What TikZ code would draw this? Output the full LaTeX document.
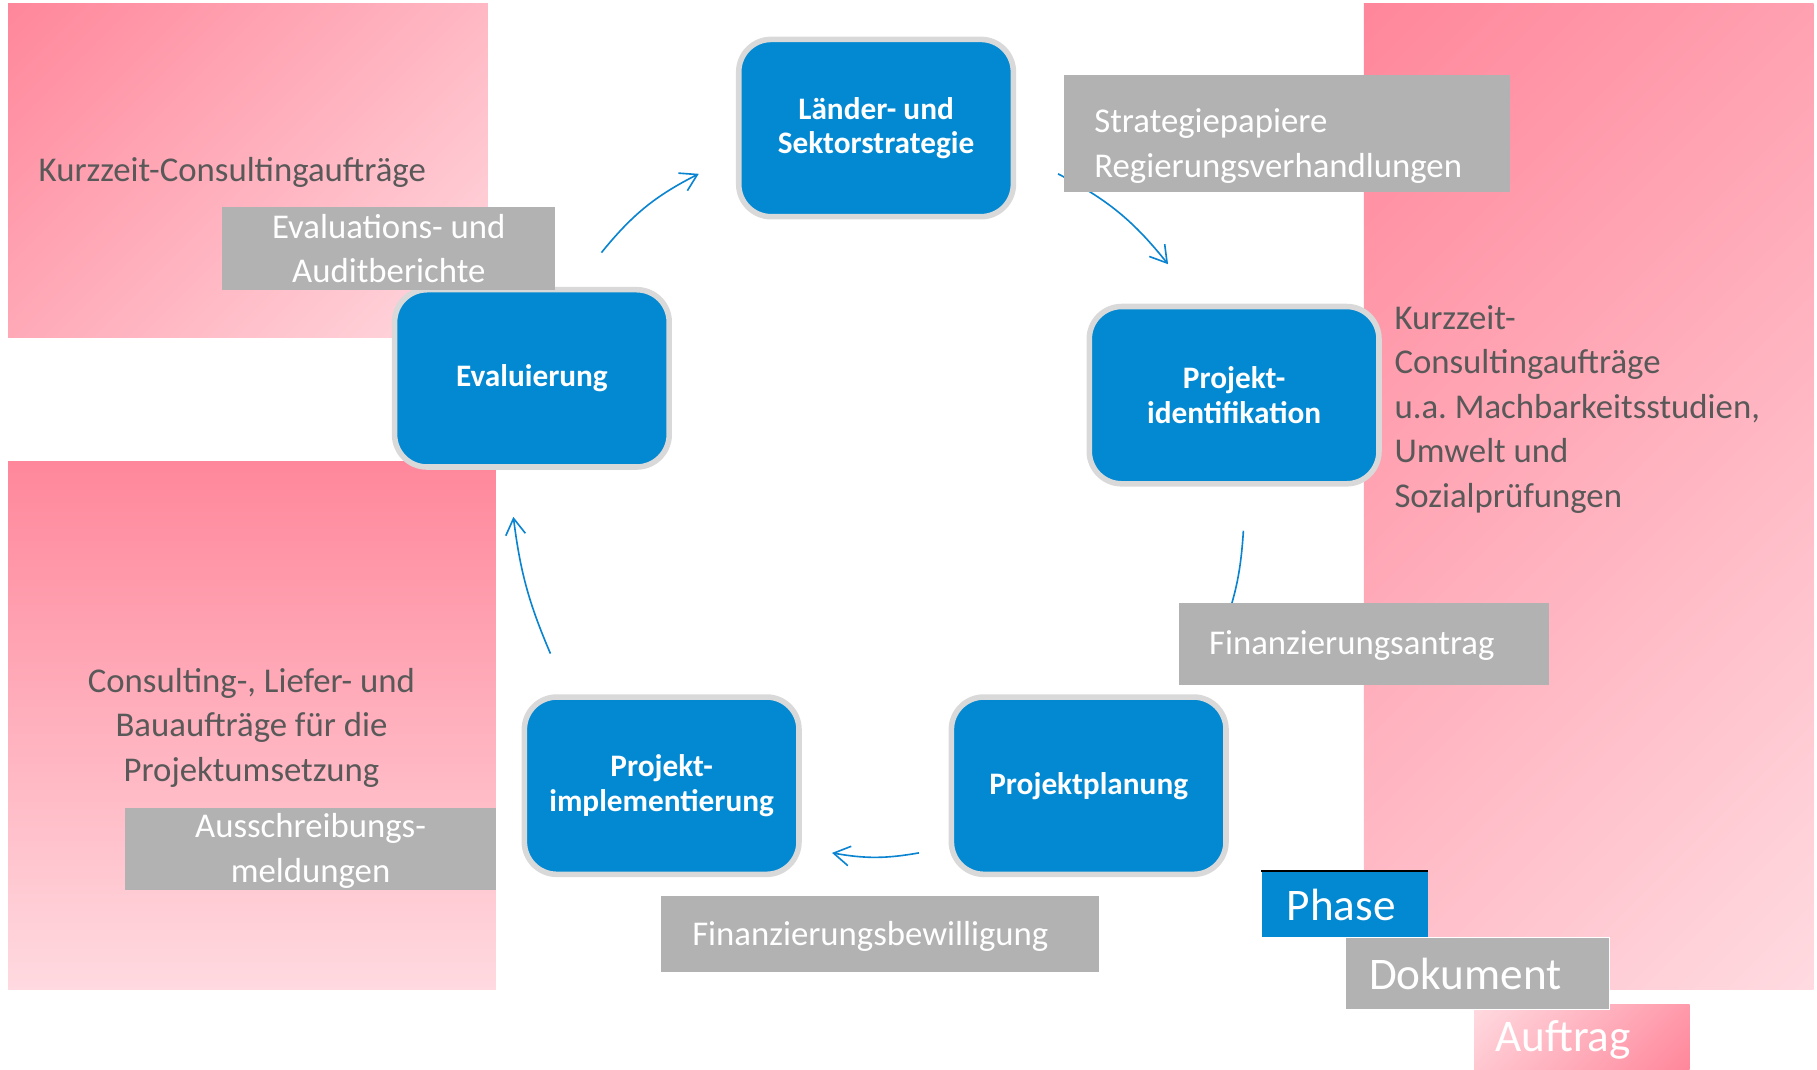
\documentclass[tikz,border=0pt]{standalone}
\usepackage{fontspec}
\setmainfont{Carlito}
\usetikzlibrary{arrows.meta}
\frenchspacing
\definecolor{phaseblue}{RGB}{2,137,210}
\definecolor{rimgray}{RGB}{217,217,217}
\definecolor{docgray}{RGB}{178,178,178}
\definecolor{txtgray}{RGB}{89,89,89}
\definecolor{pinkdark}{RGB}{255,135,155}
\definecolor{pinklight}{RGB}{255,218,224}
\definecolor{arrowblue}{RGB}{10,132,208}
\pgfdeclareverticalshading{pinkdiag}{100bp}{color(0bp)=(pinklight); color(15bp)=(pinklight); color(85bp)=(pinkdark); color(100bp)=(pinkdark)}
\begin{document}
\begin{tikzpicture}[x=0.5pt,y=-0.5pt,
  stage/.style={draw=rimgray, line width=2.4pt, fill=phaseblue, rounded corners=14pt,
    minimum width=118.5pt, minimum height=76.5pt, inner sep=0pt, text=white, align=center,
    font=\bfseries\fontsize{13.5}{15}\selectfont},
  docbox/.style={fill=docgray, inner sep=0pt},
  doctext/.style={text=white, inner sep=0pt, font=\fontsize{15}{19.2}\selectfont},
  jobtext/.style={text=txtgray, inner sep=0pt, font=\fontsize{15}{19.2}\selectfont},
  legendtext/.style={text=white, inner sep=0pt, font=\fontsize{19.5}{23}\selectfont},
  flow/.style={draw=arrowblue, line width=0.7pt, -{Straight Barb[length=7pt,width=8.5pt]}}]
\useasboundingbox (0,0) rectangle (1568,922.5);
% pink areas (contracts)
\shade[shading=pinkdiag, shading angle=45] (7,3) rectangle (421,291);
\shade[top color=pinkdark, bottom color=pinklight] (7,398) rectangle (428,854);
\shade[shading=pinkdiag, shading angle=45] (1177,3) rectangle (1565,854);
% connectors
\coordinate (a1s) at (519,218);  \coordinate (a1e) at (603,150);
\coordinate (a2s) at (913,150);  \coordinate (a2e) at (1008,228);
\coordinate (a3s) at (1073,458); \coordinate (a3e) at (1055,545);
\coordinate (a4s) at (793,736);  \coordinate (a4e) at (718,736);
\coordinate (a5s) at (475,564);  \coordinate (a5e) at (443,446);
\draw[flow] (a1s) to[bend left=12] (a1e);
\draw[flow] (a2s) to[bend left=12] (a2e);
\draw[flow] (a3s) to[bend left=8] (a3e);
\draw[flow] (a4s) to[bend left=10] (a4e);
\draw[flow] (a5s) to[bend left=8] (a5e);
% phases
\node[stage] (lae) at (756,110.5) {Länder- und\\Sektorstrategie};
\node[stage, minimum width=125pt] (pid) at (1065,341) {Projekt-\\identifikation};
\node[stage] (ppl) at (939.5,678) {Projektplanung};
\node[stage] (pim) at (571,678) {Projekt-\\implementierung};
\node[stage] (eva) at (459,326.5) {Evaluierung};
% documents
\node[docbox, doctext, align=center, minimum width=143.5pt, minimum height=35.5pt] (evb) at (335.5,214.5) {Evaluations- und\\Auditberichte};
\node[docbox, minimum width=192.5pt, minimum height=50.5pt] (stb) at (1110.5,115.5) {};
\node[doctext, anchor=west, align=left] (stt) at (944,126) {Strategiepapiere\\Regierungsverhandlungen};
\node[docbox, minimum width=160pt, minimum height=35.5pt] (fab) at (1177,555.5) {};
\node[doctext, anchor=west] (fat) at (1043,557) {Finanzierungsantrag};
\node[docbox, minimum width=189pt, minimum height=33pt] (fbb) at (759,806) {};
\node[doctext, anchor=west] (fbt) at (597,808) {Finanzierungsbewilligung};
\node[docbox, minimum width=160pt, minimum height=35.5pt] (aub) at (268,732.5) {};
\node[doctext, align=center] (aut) at (268,734.5) {Ausschreibungs-\\meldungen};
% contracts texts
\node[jobtext, anchor=west] (k1) at (33,149) {Kurzzeit-Consultingaufträge};
\node[jobtext, anchor=west, align=left] (k2) at (1203,353) {Kurzzeit-\\Consultingaufträge\\u.a. Machbarkeitsstudien,\\Umwelt und\\Sozialprüfungen};
\node[jobtext, align=center] (k3) at (217,628) {Consulting-, Liefer- und\\Bauaufträge für die\\Projektumsetzung};
% legend
\shade[shading=pinkdiag, shading angle=225] (1272,867) rectangle (1458,922.5);
\node[legendtext, anchor=west] (auf) at (1290,897) {Auftrag};
\node[fill=phaseblue, inner sep=0pt, minimum width=71.5pt, minimum height=28.5pt] (pha) at (1160.5,780.5) {};
\draw[black, line width=0.6pt] (pha.north west) -- (pha.north east);
\node[legendtext, anchor=west] (pht) at (1110,781) {Phase};
\node[docbox, draw=white, line width=0.5pt, minimum width=114pt, minimum height=31pt] (dok) at (1275,840) {};
\node[legendtext, anchor=west] (dkt) at (1181,840.5) {Dokument};
\end{tikzpicture}
\end{document}
